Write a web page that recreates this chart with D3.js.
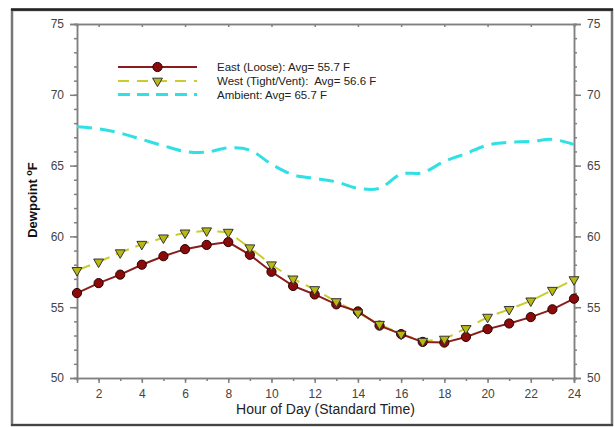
<!DOCTYPE html>
<html>
<head>
<meta charset="utf-8">
<script src="https://cdn.jsdelivr.net/npm/d3@7"></script>
<style>
  body { margin: 0; background: #fff; }
  svg { font-family: "Liberation Sans", Arial, sans-serif; }
</style>
</head>
<body>
<div id="chart"></div>
<script>
var hours = d3.range(1, 25);
var east = [56.0, 56.7, 57.3, 58.0, 58.6, 59.1, 59.4, 59.6, 58.7, 57.5, 56.5, 55.9,
            55.2, 54.7, 53.7, 53.1, 52.55, 52.5, 52.9, 53.45, 53.85, 54.3, 54.85, 55.6];
var west = [57.6, 58.2, 58.85, 59.45, 59.9, 60.25, 60.4, 60.3, 59.2, 58.0, 57.0, 56.25,
            55.4, 54.6, 53.8, 53.1, 52.6, 52.75, 53.5, 54.3, 54.85, 55.45, 56.2, 56.95];
var ambient = [67.75, 67.6, 67.3, 66.85, 66.4, 66.0, 65.95, 66.25, 66.1, 65.1, 64.35, 64.1,
               63.85, 63.4, 63.4, 64.4, 64.5, 65.3, 65.85, 66.45, 66.65, 66.7, 66.85, 66.5];
var xTicks = [2, 4, 6, 8, 10, 12, 14, 16, 18, 20, 22, 24];
var yTicks = [50, 55, 60, 65, 70, 75];
var legendLabels = ["East (Loose): Avg= 55.7 F", "West (Tight/Vent):  Avg= 56.6 F", "Ambient: Avg= 65.7 F"];

var W = 615, H = 427;
var plotL = 77, plotR = 574, plotT = 24, plotB = 378;

var svg = d3.select("#chart").append("svg").attr("width", W).attr("height", H);

// outer frame
svg.append("rect").attr("x", 12).attr("y", 10).attr("width", 600).attr("height", 415)
    .attr("fill", "none").attr("stroke", "#777").attr("stroke-width", 2.5);
svg.append("line").attr("x1", 11).attr("x2", 613).attr("y1", 9.5).attr("y2", 9.5)
    .attr("stroke", "#222").attr("stroke-width", 2.5);
svg.append("line").attr("x1", 11).attr("x2", 613).attr("y1", 425).attr("y2", 425)
    .attr("stroke", "#444").attr("stroke-width", 2);

var x = d3.scaleLinear().domain([1, 24]).range([plotL, plotR]);
var y = d3.scaleLinear().domain([50, 75]).range([plotB, plotT]);

var axisColor = "#808080", textColor = "#444";

function styleAxis(g) {
    g.selectAll("path, line").attr("stroke", axisColor).attr("stroke-width", 1.5);
    g.selectAll("text").attr("fill", textColor).attr("font-size", 12);
}

// minor ticks
svg.append("g").attr("transform", "translate(0," + plotB + ")")
    .call(d3.axisBottom(x).tickValues(d3.range(1, 25)).tickSize(3).tickFormat(""))
    .call(styleAxis);
svg.append("g").attr("transform", "translate(0," + plotT + ")")
    .call(d3.axisTop(x).tickValues(d3.range(1, 25)).tickSize(0).tickFormat(""))
    .call(styleAxis);
svg.append("g").attr("transform", "translate(" + plotL + ",0)")
    .call(d3.axisLeft(y).tickValues(d3.range(50, 76)).tickSize(3).tickFormat(""))
    .call(styleAxis);
svg.append("g").attr("transform", "translate(" + plotR + ",0)")
    .call(d3.axisRight(y).tickValues(d3.range(50, 76)).tickSize(3).tickFormat(""))
    .call(styleAxis);

// major ticks
svg.append("g").attr("transform", "translate(0," + plotB + ")")
    .call(d3.axisBottom(x).tickValues(xTicks).tickSize(5).tickPadding(6))
    .call(styleAxis);
svg.append("g").attr("transform", "translate(0," + plotT + ")")
    .call(d3.axisBottom(x).tickValues(xTicks).tickSize(3).tickFormat(""))
    .call(styleAxis);
svg.append("g").attr("transform", "translate(" + plotL + ",0)")
    .call(d3.axisLeft(y).tickValues(yTicks).tickSize(7).tickPadding(6))
    .call(styleAxis);
svg.append("g").attr("transform", "translate(" + plotR + ",0)")
    .call(d3.axisRight(y).tickValues(yTicks).tickSize(7).tickPadding(6))
    .call(styleAxis);

// axis titles
svg.append("text").attr("x", (plotL + plotR) / 2).attr("y", 414)
    .attr("text-anchor", "middle").attr("font-size", 14).attr("fill", "#222")
    .text("Hour of Day (Standard Time)");
var yl = svg.append("text").attr("transform", "translate(37,200) rotate(-90)")
    .attr("text-anchor", "middle").attr("font-size", 13).attr("font-weight", "bold").attr("fill", "#111");
yl.append("tspan").text("Dewpoint ");
yl.append("tspan").attr("font-size", 9).attr("dy", -5).text("o");
yl.append("tspan").attr("dy", 5).text("F");

// lines
var ambLine = d3.line().x(function(d, i) { return x(hours[i]); }).y(function(d) { return y(d); })
    .curve(d3.curveCatmullRom);
var straight = d3.line().x(function(d, i) { return x(hours[i]); }).y(function(d) { return y(d); });

svg.append("path").datum(ambient).attr("d", ambLine).attr("fill", "none")
    .attr("stroke", "#2fe0e4").attr("stroke-width", 3).attr("stroke-dasharray", "15,8");

svg.append("path").datum(west).attr("d", straight).attr("fill", "none")
    .attr("stroke", "#c9cc2a").attr("stroke-width", 2).attr("stroke-dasharray", "14,7");
svg.append("path").datum(east).attr("d", straight).attr("fill", "none")
    .attr("stroke", "#8b1c1c").attr("stroke-width", 2);

var tri = d3.symbol().type(d3.symbolTriangle).size(42);

svg.append("g").selectAll("circle").data(east).enter().append("circle")
    .attr("cx", function(d, i) { return x(hours[i]); })
    .attr("cy", function(d) { return y(d); })
    .attr("r", 4.6).attr("fill", "#8b0a0a").attr("stroke", "#2a0000").attr("stroke-width", 1);

svg.append("g").selectAll("path").data(west).enter().append("path")
    .attr("d", tri)
    .attr("transform", function(d, i) { return "translate(" + x(hours[i]) + "," + y(d) + ") rotate(180)"; })
    .attr("fill", "#b8b814").attr("stroke", "#333").attr("stroke-width", 1);

// legend
var lg = svg.append("g");
var ly = [67, 81, 94.5];
lg.append("line").attr("x1", 118).attr("x2", 197).attr("y1", ly[0]).attr("y2", ly[0])
    .attr("stroke", "#8b1c1c").attr("stroke-width", 2);
lg.append("circle").attr("cx", 157.5).attr("cy", ly[0]).attr("r", 4.6)
    .attr("fill", "#8b0a0a").attr("stroke", "#2a0000");
lg.append("line").attr("x1", 118).attr("x2", 197).attr("y1", ly[1]).attr("y2", ly[1])
    .attr("stroke", "#c9cc2a").attr("stroke-width", 2).attr("stroke-dasharray", "11,8");
lg.append("path").attr("d", tri).attr("transform", "translate(157.5," + ly[1] + ") rotate(180)")
    .attr("fill", "#b8b814").attr("stroke", "#333");
lg.append("line").attr("x1", 118).attr("x2", 197).attr("y1", ly[2]).attr("y2", ly[2])
    .attr("stroke", "#2fe0e4").attr("stroke-width", 3).attr("stroke-dasharray", "12,7");
lg.selectAll("text").data(legendLabels).enter().append("text")
    .attr("x", 217).attr("y", function(d, i) { return ly[i] + 4; })
    .attr("font-size", 11.5).attr("fill", "#222")
    .style("white-space", "pre")
    .text(function(d) { return d; });
</script>
</body>
</html>
